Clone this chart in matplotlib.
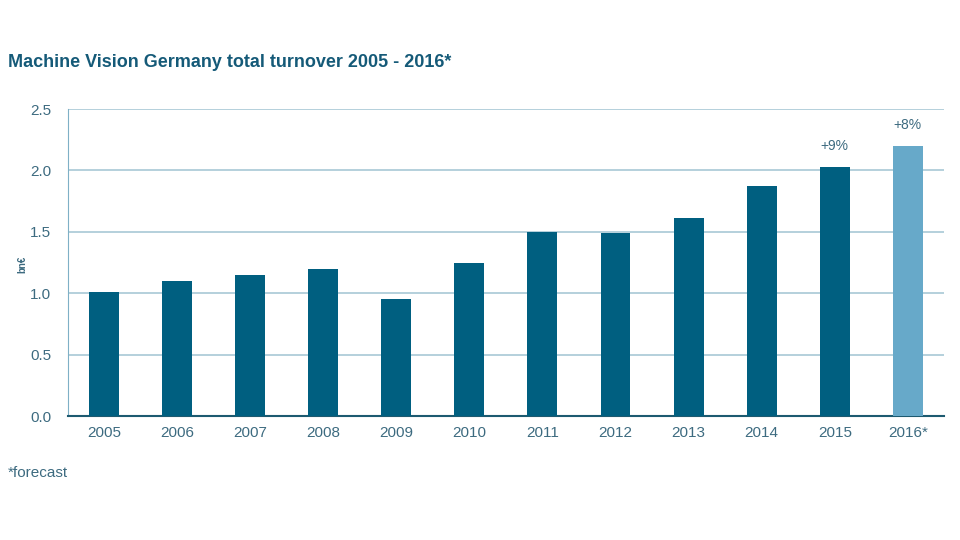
import matplotlib.pyplot as plt

years = ['2005', '2006', '2007', '2008', '2009', '2010', '2011', '2012',
         '2013', '2014', '2015', '2016*']
turnover = [1.01, 1.10, 1.15, 1.20, 0.95, 1.25, 1.50, 1.49, 1.61, 1.87, 2.03, 2.20]
growth_labels = {10: '+9%', 11: '+8%'}

dark = '#005f80'
light = '#67a9c9'
text_col = '#3d6b80'
title_col = '#155a78'

plt.rcParams['font.family'] = ['Liberation Sans', 'DejaVu Sans']

fig = plt.figure(figsize=(9.6, 5.4), dpi=100)
ax = fig.add_axes([0.0708, 0.2296, 0.913, 0.5685])

colors = [dark] * (len(years) - 1) + [light]
x = range(len(years))
ax.bar(x, turnover, width=0.41, color=colors, zorder=3)

for i, lab in growth_labels.items():
    ax.annotate(lab, (i, turnover[i]), xytext=(0, 10), textcoords='offset points',
                ha='center', va='bottom', fontsize=10, color=text_col)

ax.set_xlim(-0.49, len(years) - 0.5)
ax.set_ylim(0, 2.5)
ax.set_yticks([0, 0.5, 1.0, 1.5, 2.0, 2.5])
ax.set_yticklabels(['0.0', '0.5', '1.0', '1.5', '2.0', '2.5'])
ax.set_xticks(list(x))
ax.set_xticklabels(years)
ax.grid(axis='y', color='#a8c8d6', linewidth=1.2, zorder=0)
ax.tick_params(length=0, labelsize=11, colors=text_col, pad=7)
ax.tick_params(axis='y', pad=12)

for s in ['top', 'right']:
    ax.spines[s].set_visible(False)
ax.spines['left'].set_color('#7fb0c6')
ax.spines['bottom'].set_color('#1d5a70')
ax.spines['bottom'].set_linewidth(1.5)

fig.text(0.008, 0.885, 'Machine Vision Germany total turnover 2005 - 2016*',
         fontsize=13, fontweight='bold', color=title_col, va='center')
fig.text(0.023, 0.51, 'bn€', rotation=90, fontsize=7, fontweight='bold',
         color=text_col, va='center', ha='center')
fig.text(0.008, 0.124, '*forecast', fontsize=11, color=text_col, va='center')

fig.savefig('out.png', dpi=100)
